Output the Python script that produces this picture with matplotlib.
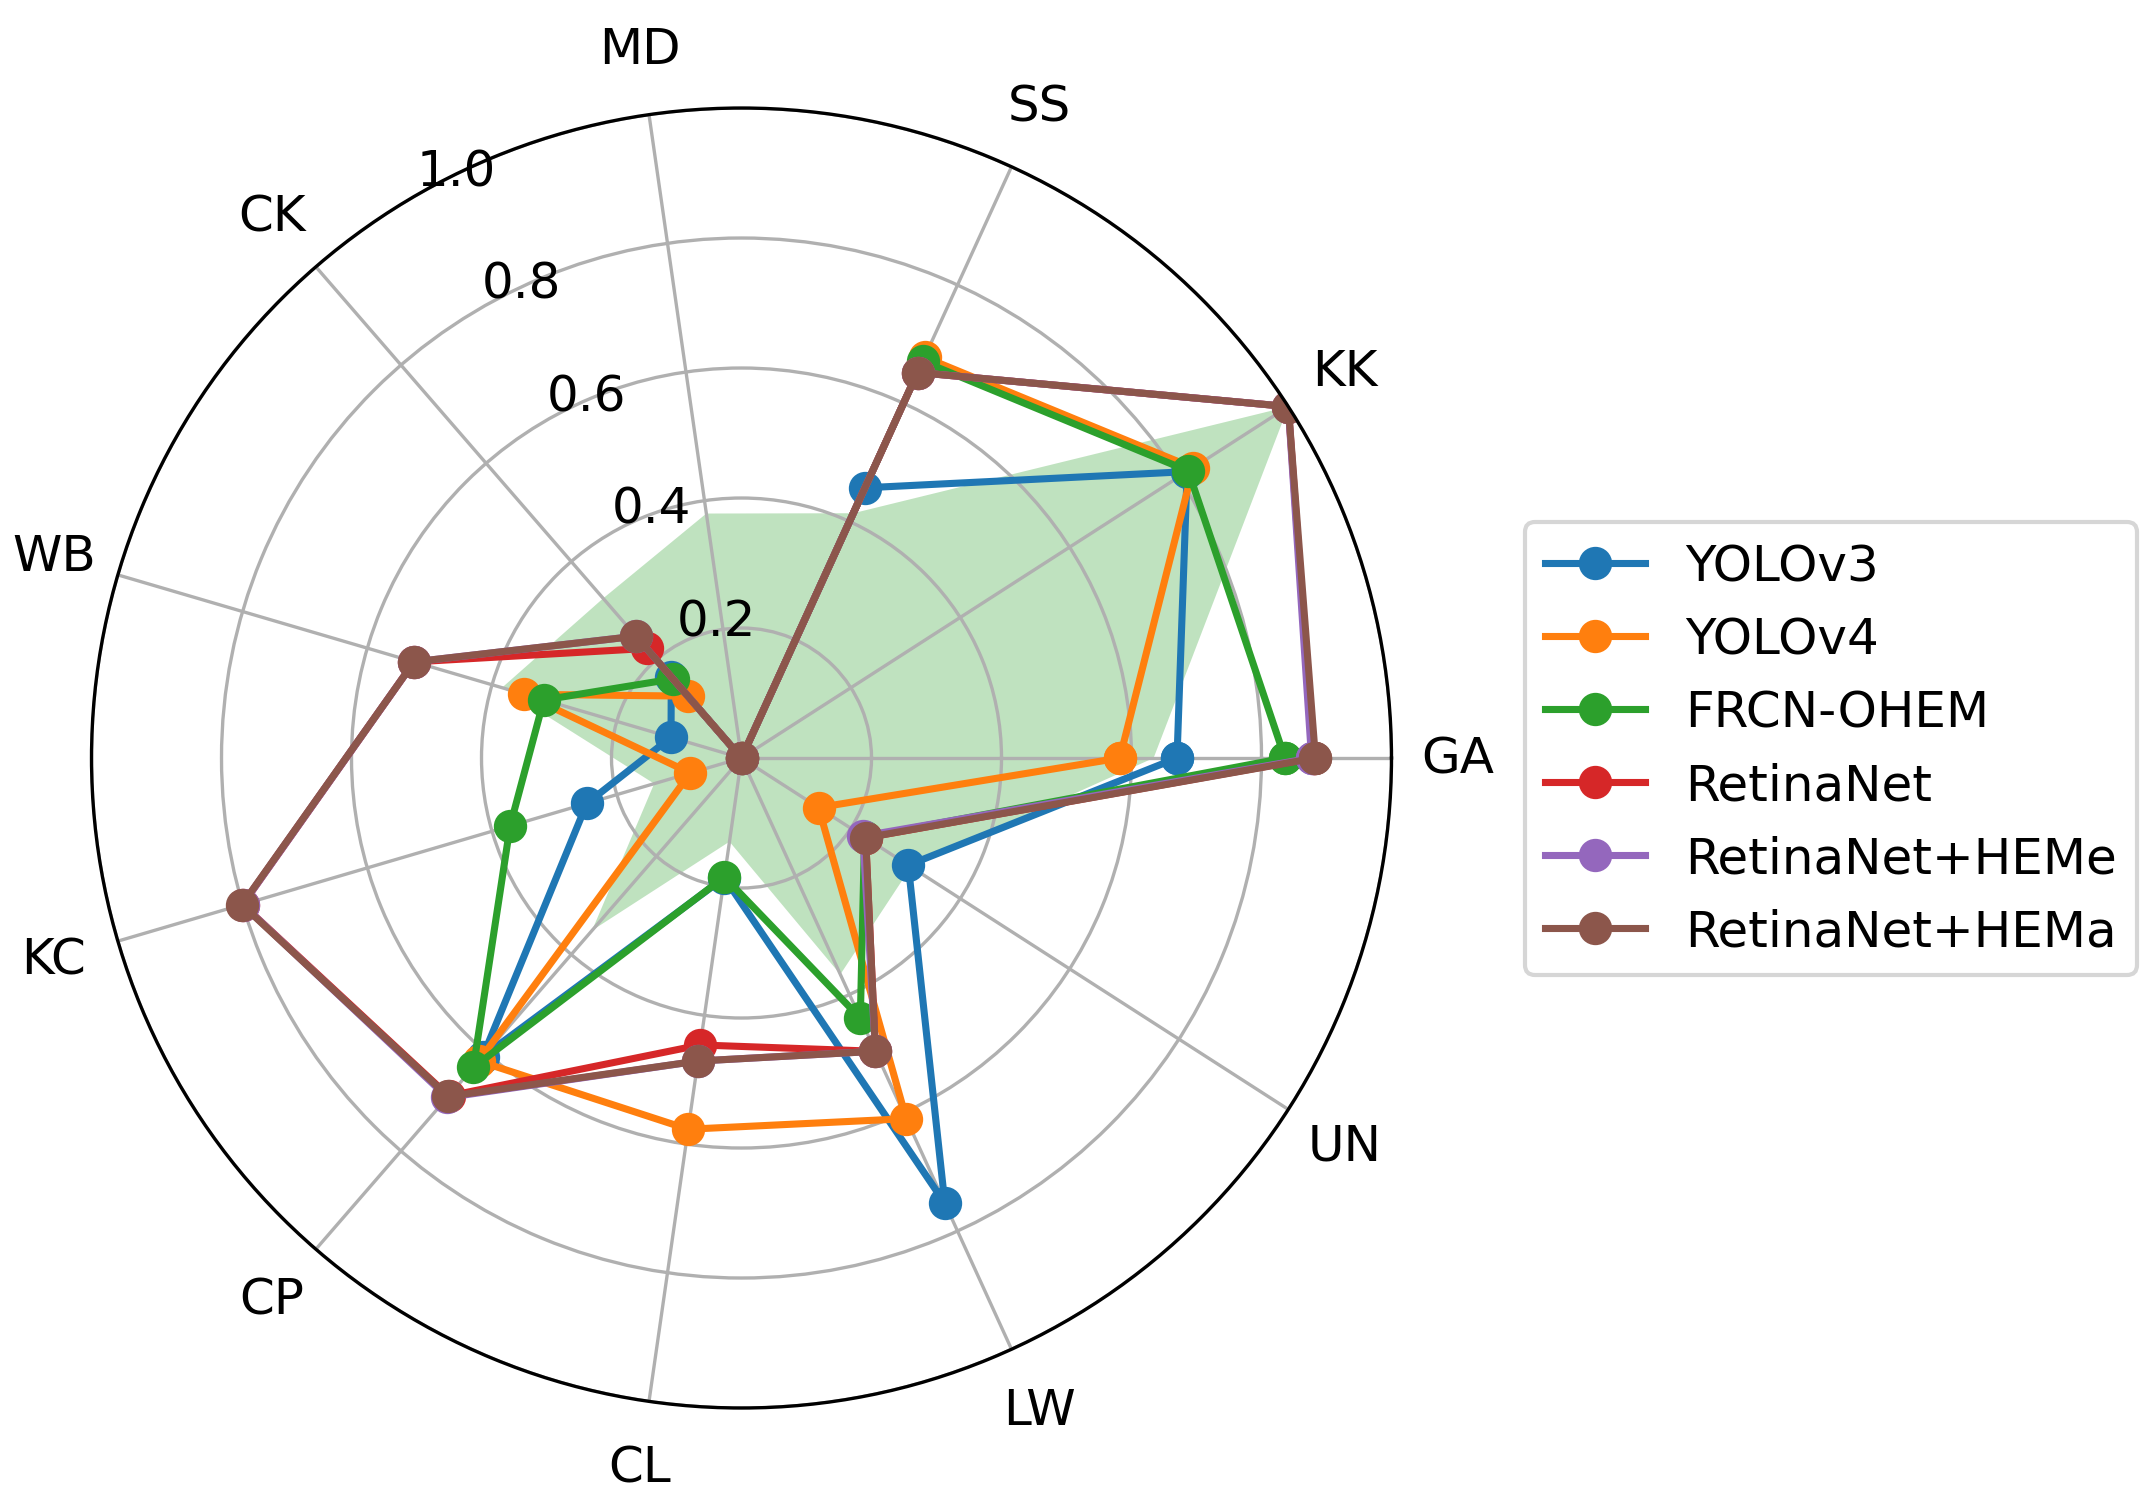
import numpy as np
import matplotlib.pyplot as plt

# categorias (sentido antihorario desde GA)
categorias = ['GA', 'KK', 'SS', 'MD', 'CK', 'WB', 'KC', 'CP', 'CL', 'LW', 'UN']

# valores por modelo
yolov3     = [0.670, 0.815, 0.457, 0.0, 0.165, 0.113, 0.248, 0.608, 0.186, 0.753, 0.305]
yolov4     = [0.582, 0.826, 0.678, 0.0, 0.126, 0.348, 0.082, 0.617, 0.577, 0.610, 0.141]
frcn_ohem  = [0.836, 0.817, 0.671, 0.0, 0.161, 0.317, 0.371, 0.630, 0.185, 0.440, 0.225]
retinanet  = [0.880, 1.000, 0.652, 0.0, 0.223, 0.525, 0.800, 0.688, 0.446, 0.496, 0.227]
retina_heme = [0.877, 1.000, 0.652, 0.0, 0.248, 0.525, 0.800, 0.691, 0.471, 0.496, 0.222]
retina_hema = [0.883, 1.000, 0.652, 0.0, 0.248, 0.525, 0.801, 0.689, 0.471, 0.496, 0.227]

# area sombreada (sin leyenda)
area = [0.634, 1.000, 0.414, 0.380, 0.325, 0.384, 0.140, 0.351, 0.130, 0.366, 0.310]

series = [
    ('YOLOv3', yolov3),
    ('YOLOv4', yolov4),
    ('FRCN-OHEM', frcn_ohem),
    ('RetinaNet', retinanet),
    ('RetinaNet+HEMe', retina_heme),
    ('RetinaNet+HEMa', retina_hema),
]

n = len(categorias)
angulos = np.linspace(0, 2 * np.pi, n, endpoint=False)
ang_cerrado = np.concatenate([angulos, angulos[:1]])

fig = plt.figure(figsize=(7.15, 5.0133), dpi=300)
ax = fig.add_axes([0.04266, 0.06316, 0.60606, 0.86436], projection='polar')

ax.fill(ang_cerrado, area + area[:1], color='tab:green', alpha=0.3, linewidth=0)

for nombre, vals in series:
    ax.plot(ang_cerrado, vals + vals[:1], marker='o', linewidth=1.7,
            markersize=7, label=nombre)

ax.set_ylim(0, 1.0)
ax.set_yticks([0.2, 0.4, 0.6, 0.8, 1.0])
ax.set_yticklabels(['0.2', '0.4', '0.6', '0.8', '1.0'], fontsize=12)
ax.set_rlabel_position(120)
ax.set_xticks(angulos)
ax.set_xticklabels(categorias, fontsize=12)
ax.tick_params(axis='x', pad=5.5)

ax.legend(loc='center left', bbox_to_anchor=(1.0835, 0.507), fontsize=12)

fig.savefig('out.png', dpi=300)
